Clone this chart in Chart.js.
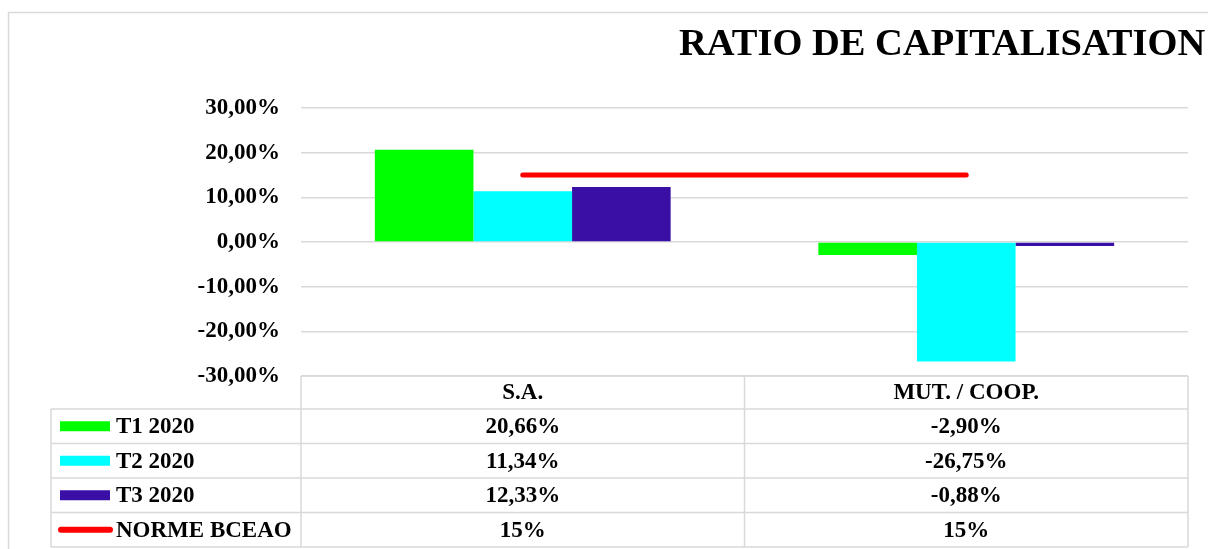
<!DOCTYPE html>
<html>
<head>
<meta charset="utf-8">
<script src="https://cdn.jsdelivr.net/npm/chart.js@4/dist/chart.umd.min.js"></script>
<style>
html,body{margin:0;padding:0;background:#fff;}
#wrap{width:1208px;height:549px;position:relative;}
</style>
</head>
<body>
<div id="wrap"><canvas id="c" width="1208" height="549"></canvas></div>
<script>
const chartTitle = 'RATIO DE CAPITALISATION';
const categories = ['S.A.', 'MUT. / COOP.'];
const seriesNames = ['T1 2020', 'T2 2020', 'T3 2020', 'NORME BCEAO'];
const t1 = [20.66, -2.90];
const t2 = [11.34, -26.75];
const t3 = [12.33, -0.88];
const norme = [15, 15];
const yTicks = [-30, -20, -10, 0, 10, 20, 30];

const FONT = "'Liberation Serif', 'Times New Roman', serif";
const GRID = '#d9d9d9';
const colors = ['#00ff00', '#00ffff', '#3a0fa6', '#ff0000'];
const TXT = 23;

function fmtTick(v){ return v.toFixed(2).replace('.', ',') + '%'; }
function fmtVal(v){ return Number.isInteger(v) ? v + '%' : v.toFixed(2).replace('.', ',') + '%'; }

const tablePlugin = {
  id: 'tablePlugin',
  beforeDraw(chart){
    const ctx = chart.ctx;
    ctx.save();
    ctx.strokeStyle = GRID;
    ctx.lineWidth = 1.5;
    ctx.beginPath();
    ctx.moveTo(8.5, chart.height + 2);
    ctx.lineTo(8.5, 12.5);
    ctx.lineTo(chart.width + 2, 12.5);
    ctx.stroke();
    ctx.fillStyle = '#000';
    ctx.font = 'bold 38.5px ' + FONT;
    ctx.textAlign = 'left';
    ctx.textBaseline = 'middle';
    ctx.fillText(chartTitle, 679, 45);
    ctx.restore();
  },
  afterDraw(chart){
    const ctx = chart.ctx;
    const xs = chart.scales.x;
    const area = chart.chartArea;
    const L = area.left, R = area.right;
    const mid = (xs.getPixelForValue(0) + xs.getPixelForValue(1)) / 2;
    const legendLeft = 51;
    const headerTop = area.bottom;
    const headerH = 33;
    const rowH = 34.5;
    const rows = [t1, t2, t3, norme];
    ctx.save();
    ctx.strokeStyle = GRID;
    ctx.lineWidth = 1.5;
    ctx.beginPath();
    ctx.moveTo(L, headerTop); ctx.lineTo(R, headerTop);
    const bottom = headerTop + headerH + rowH * rows.length;
    ctx.moveTo(L, headerTop); ctx.lineTo(L, bottom);
    ctx.moveTo(mid, headerTop); ctx.lineTo(mid, bottom);
    ctx.moveTo(R, headerTop); ctx.lineTo(R, bottom);
    ctx.moveTo(legendLeft, headerTop + headerH); ctx.lineTo(legendLeft, bottom);
    for (let i = 0; i <= rows.length; i++) {
      const y = headerTop + headerH + rowH * i;
      ctx.moveTo(legendLeft, y); ctx.lineTo(R, y);
    }
    ctx.stroke();

    ctx.fillStyle = '#000';
    ctx.font = 'bold ' + TXT + 'px ' + FONT;
    ctx.textBaseline = 'middle';
    ctx.textAlign = 'center';
    categories.forEach((c, i) => {
      ctx.fillText(c, xs.getPixelForValue(i), headerTop + headerH / 2 + 1);
    });
    rows.forEach((vals, r) => {
      const cy = headerTop + headerH + rowH * r + rowH / 2 + 1;
      vals.forEach((v, i) => {
        ctx.fillStyle = '#000';
        ctx.textAlign = 'center';
        ctx.fillText(fmtVal(v), xs.getPixelForValue(i), cy);
      });
      if (r < 3) {
        ctx.fillStyle = colors[r];
        ctx.fillRect(60, cy - 6, 50, 10);
      } else {
        ctx.strokeStyle = colors[r];
        ctx.lineWidth = 6;
        ctx.lineCap = 'round';
        ctx.beginPath();
        ctx.moveTo(61, cy - 1); ctx.lineTo(110, cy - 1);
        ctx.stroke();
      }
      ctx.fillStyle = '#000';
      ctx.textAlign = 'left';
      ctx.fillText(seriesNames[r], 116, cy);
    });
    ctx.restore();
  }
};

new Chart(document.getElementById('c'), {
  data: {
    labels: categories,
    datasets: [
      { type: 'line', label: seriesNames[3], data: norme, borderColor: colors[3], backgroundColor: colors[3],
        borderWidth: 5, borderCapStyle: 'round', pointRadius: 0, order: 0 },
      { type: 'bar', label: seriesNames[0], data: t1, backgroundColor: colors[0], borderWidth: 0, order: 1 },
      { type: 'bar', label: seriesNames[1], data: t2, backgroundColor: colors[1], borderWidth: 0, order: 1 },
      { type: 'bar', label: seriesNames[2], data: t3, backgroundColor: colors[2], borderWidth: 0, order: 1 }
    ]
  },
  options: {
    responsive: false,
    animation: false,
    events: [],
    layout: { padding: { left: 0, top: 108, right: 20, bottom: 173 } },
    datasets: { bar: { categoryPercentage: 0.667, barPercentage: 1 } },
    plugins: { legend: { display: false }, title: { display: false }, tooltip: { enabled: false } },
    scales: {
      x: { display: false, offset: true },
      y: {
        min: -30, max: 30,
        afterFit(scale){ scale.width = 301; },
        afterBuildTicks(scale){ scale.ticks = yTicks.map(v => ({ value: v })); },
        border: { display: false },
        grid: { color: GRID, lineWidth: 1.5, drawTicks: false },
        ticks: { padding: 21, color: '#000', font: { family: FONT, size: TXT, weight: 'bold' },
          callback: v => fmtTick(v) }
      }
    }
  },
  plugins: [tablePlugin]
});
</script>
</body>
</html>
